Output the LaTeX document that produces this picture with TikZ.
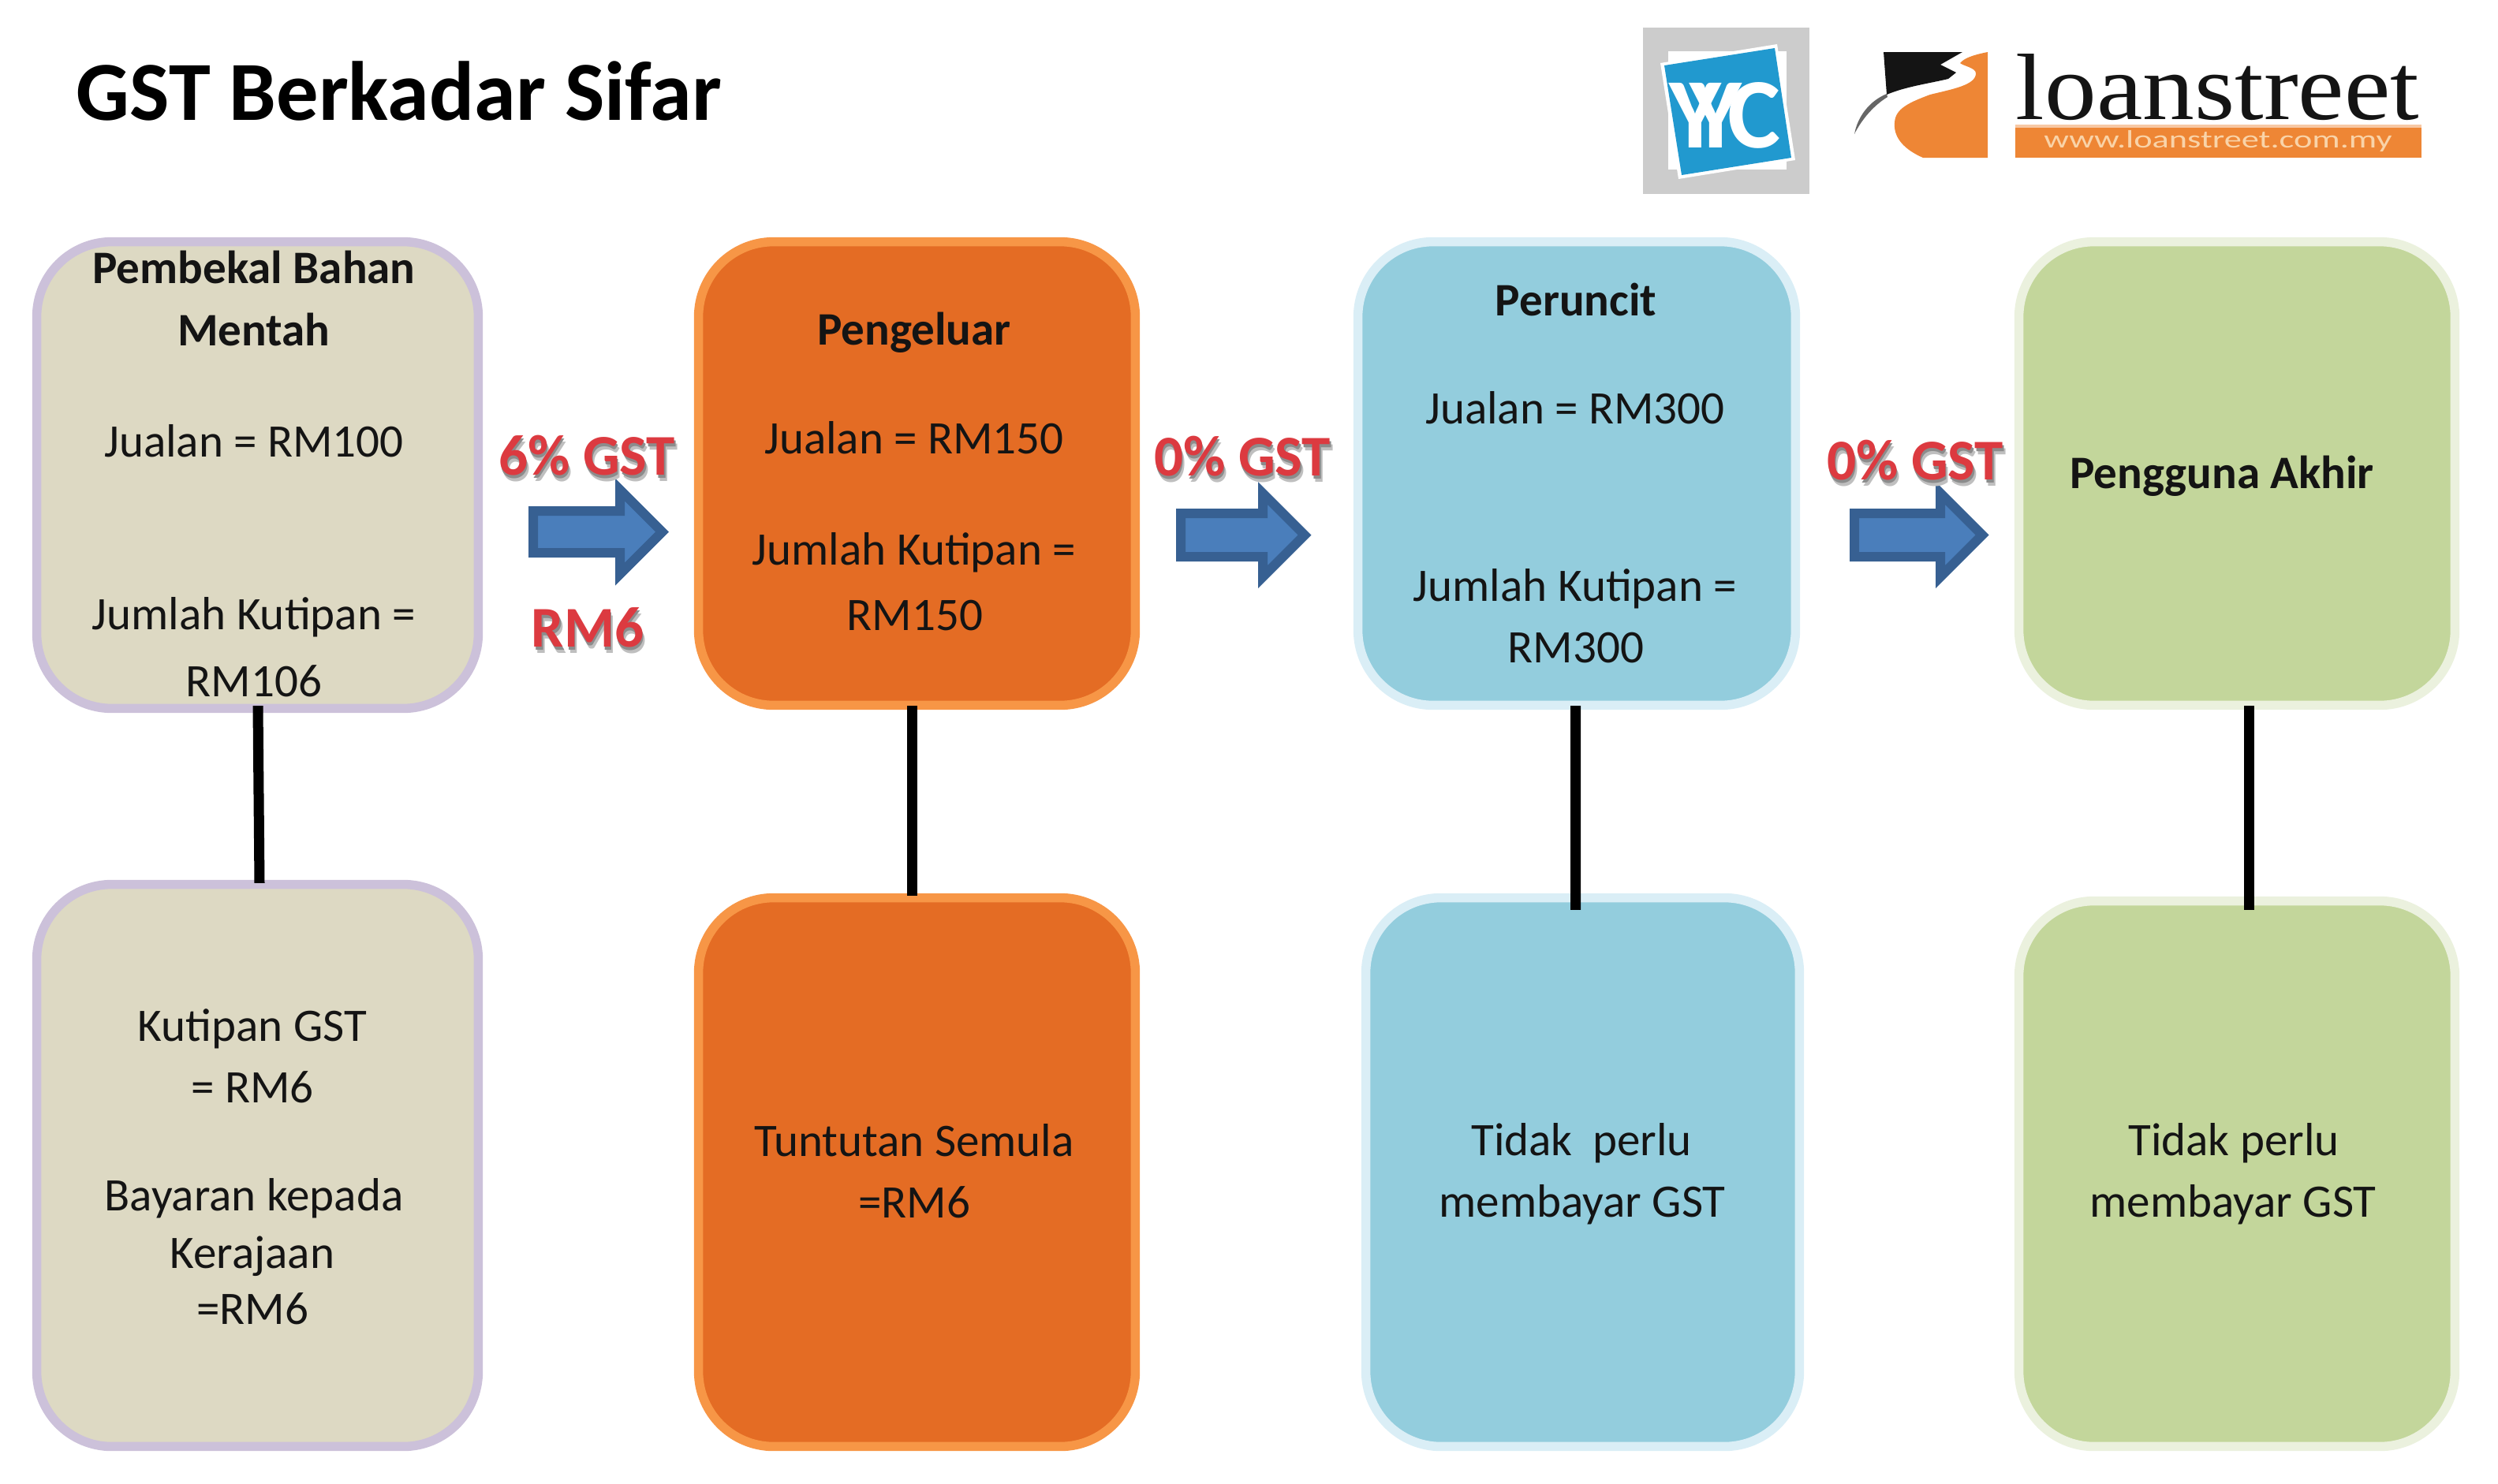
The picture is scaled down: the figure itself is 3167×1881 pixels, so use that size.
\documentclass[tikz,border=0pt]{standalone}
\usepackage{fontspec}
\setmainfont{Carlito}
\newfontfamily\logoserif{Liberation Serif}
\definecolor{begfill}{HTML}{DDD9C3}\definecolor{begline}{HTML}{CCC1DA}
\definecolor{orgfill}{HTML}{E46C24}\definecolor{orgline}{HTML}{F79646}
\definecolor{blufill}{HTML}{93CDDD}\definecolor{bluline}{HTML}{DAEEF6}
\definecolor{grnfill}{HTML}{C3D69B}\definecolor{grnline}{HTML}{EBF1DE}
\definecolor{arrfill}{HTML}{4A7EBB}\definecolor{arrline}{HTML}{376092}
\definecolor{wordred}{HTML}{DC3A40}
\definecolor{yycblue}{HTML}{2199CF}
\definecolor{lsorange}{HTML}{EE8635}
\definecolor{lslight}{HTML}{F9D3A8}
\newcommand{\wordart}[1]{\leavevmode\rlap{\kern1pt\raisebox{-2.4pt}{\textcolor{black!25}{#1}}}\rlap{\kern0.4pt\raisebox{-1.3pt}{\textcolor{black!45}{#1}}}\textcolor{wordred}{#1}}
\tikzset{
  x=0.01cm,y=-0.01cm,
  card/.style n args={4}{draw=#1,fill=#2,line width=0.115cm,rounded corners=0.95cm,inner sep=0pt,minimum width=#3 cm,minimum height=#4 cm},
  body/.style={font=\fontsize{16.8}{18}\selectfont,text=black!92,inner sep=0pt},
  head/.style={font=\fontsize{16.8}{18}\selectfont\bfseries,text=black!92,inner sep=0pt},
  rate/.style={font=\fontsize{20.8}{24}\selectfont\bfseries,inner sep=0pt,anchor=base},
  link/.style={draw=black,line width=0.13cm},
  flow/.style={draw=arrline,fill=arrfill,line width=0.12cm,miter limit=10},
}
\begin{document}
\begin{tikzpicture}
\useasboundingbox (0,0) rectangle (3167,1881);
% title
\node[font=\fontsize{30.3}{33}\selectfont\bfseries,inner sep=0pt] (title) at (506,115) {GST Berkadar Sifar};
% cards
\node[card={begline}{begfill}{5.595}{5.915}] (b1t) at (326.5,602.5) {};
\node[card={begline}{begfill}{5.595}{7.125}] (b1b) at (326.5,1478) {};
\node[card={orgline}{orgfill}{5.535}{5.875}] (b2t) at (1162.5,600.5) {};
\node[card={orgline}{orgfill}{5.535}{6.955}] (b2b) at (1162.5,1486.5) {};
\node[card={bluline}{blufill}{5.545}{5.875}] (b3t) at (1999,600.5) {};
\node[card={bluline}{blufill}{5.495}{6.955}] (b3b) at (2006.5,1486.5) {};
\node[card={grnline}{grnfill}{5.525}{5.875}] (b4t) at (2836,600.5) {};
\node[card={grnline}{grnfill}{5.525}{6.915}] (b4b) at (2836,1488.5) {};
% connectors
\draw[link] ([xshift=0.005cm,yshift=0.09cm]b1t.south) -- ([xshift=0.025cm,yshift=-0.04cm]b1b.north);
\draw[link] ([xshift=-0.065cm,yshift=0.05cm]b2t.south) -- ([xshift=-0.065cm,yshift=-0.03cm]b2b.north);
\draw[link] ([xshift=-0.015cm,yshift=0.05cm]b3t.south) -- ([xshift=-0.09cm,yshift=-0.21cm]b3b.north);
\draw[link] ([xshift=0.155cm,yshift=0.05cm]b4t.south) -- ([xshift=0.155cm,yshift=-0.17cm]b4b.north);
% text, column 1
\node[head] (t1a) at (322,339) {Pembekal Bahan};
\node[head] (t1b) at (322,418) {Mentah};
\node[body] (t1c) at (322,559) {Jualan = RM100};
\node[body] (t1d) at (322,783) {Jumlah Kutipan =};
\node[body] (t1e) at (322,864) {RM106};
\node[body] (t1f) at (320,1305) {Kutipan GST};
\node[body] (t1g) at (320,1379) {= RM6};
\node[body] (t1h) at (322,1520) {Bayaran kepada};
\node[body] (t1i) at (320,1593) {Kerajaan};
\node[body] (t1j) at (320,1660) {=RM6};
% column 2
\node[head] (t2a) at (1159,422) {Pengeluar};
\node[body] (t2b) at (1159,555) {Jualan = RM150};
\node[body] (t2c) at (1159,701) {Jumlah Kutipan =};
\node[body] (t2d) at (1160,781) {RM150};
\node[body] (t2e) at (1159,1446) {Tuntutan Semula};
\node[body] (t2f) at (1159,1525) {=RM6};
% column 3
\node[head] (t3a) at (1998,380) {Peruncit};
\node[body] (t3b) at (1997,517) {Jualan = RM300};
\node[body] (t3c) at (1997,747) {Jumlah Kutipan =};
\node[body] (t3d) at (1998,822) {RM300};
\node[body] (t3e) at (2005,1450) {Tidak\hspace{0.2em} perlu};
\node[body] (t3f) at (2006,1528) {membayar GST};
% column 4
\node[head] (t4a) at (2817,604) {Pengguna Akhir};
\node[body] (t4b) at (2832,1450) {Tidak perlu};
\node[body] (t4c) at (2831,1528) {membayar GST};
% flow arrows
\foreach \al/\ab/\at/\ac/\as in {676/786/839.5/674.5/26.5, 1497/1601/1654/678.5/27.5, 2351/2460/2513/678.5/27.5}{
  \path[flow] (\al,{\ac-\as}) -- (\ab,{\ac-\as}) -- (\ab,{\ac-(\at-\ab)}) -- (\at,\ac) -- (\ab,{\ac+(\at-\ab)}) -- (\ab,{\ac+\as}) -- (\al,{\ac+\as}) -- cycle;
}
% rate labels
\node[rate] (r1) at (744,602) {\wordart{6\% GST}};
\node[rate] (r2) at (745,820) {\wordart{RM6}};
\node[rate] (r3) at (1575,603) {\wordart{0\% GST}};
\node[rate] (r4) at (2428,608) {\wordart{0\% GST}};
% YYC logo
\fill[black!20] (2083,35) rectangle (2294,246);
\fill[white] (2115,65) rectangle (2265,215);
\fill[white] (2105,80) -- (2253,56) -- (2276,203) -- (2128,227) -- cycle;
\fill[yycblue] (2110,83) -- (2250,61) -- (2271,200) -- (2132,222) -- cycle;
\node[font=\fontsize{36}{40}\selectfont\bfseries,text=white,inner sep=0pt] (yyc) at (2187,146) {Y\kern-0.32em Y\kern-0.14em C};
% loanstreet logo
\fill[black!92] (2388,66) -- (2488,66) -- (2460,82) -- (2480,92) -- (2470,100) .. controls (2445,106) and (2415,110) .. (2392,120) -- cycle;
\fill[black!60] (2392,119) .. controls (2370,128) and (2355,148) .. (2351,170) .. controls (2360,152) and (2375,134) .. (2393,123) -- cycle;
\fill[lsorange] (2520,66) -- (2520,200) -- (2438,200) .. controls (2415,190) and (2400,175) .. (2402,155) .. controls (2403,138) and (2420,130) .. (2447,120) .. controls (2475,113) and (2505,108) .. (2505,93) .. controls (2505,86) and (2490,84) .. (2485,80) .. controls (2490,74) and (2500,70) .. (2520,66) -- cycle;
\node[font=\logoserif\fontsize{34}{38}\selectfont,text=black!92,inner sep=0pt,anchor=base west,xscale=1.1,transform shape] (ls) at (2555,151) {loanstreet};
\fill[lsorange!45] (2555,158) rectangle (3070,162);
\fill[lsorange] (2555,162) rectangle (3070,200);
\node[font=\fontsize{9}{10}\selectfont,text=lslight,inner sep=0pt,xscale=1.4,transform shape] (url) at (2812,179) {www.loanstreet.com.my};
\end{tikzpicture}
\end{document}
